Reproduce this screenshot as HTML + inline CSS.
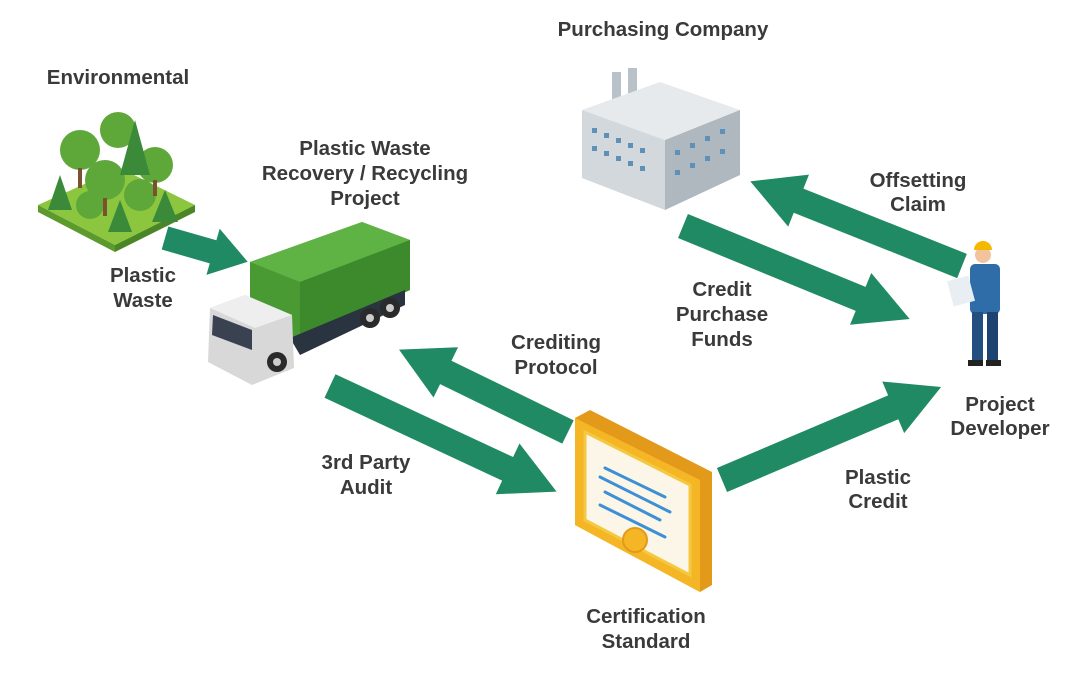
<!DOCTYPE html>
<html><head><style>
html,body{margin:0;padding:0;background:#fff;}
svg{display:block}
text{font-family:"Liberation Sans",sans-serif;font-weight:bold;font-size:20.5px;fill:#3a3a3a;text-anchor:middle}
</style></head><body>
<svg width="1080" height="695" viewBox="0 0 1080 695">
<g fill="#1f8a63">
<polygon transform="translate(165,238) rotate(16)" points="0,-12 50,-12 50,-24 86,0 50,24 50,12 0,12"/>
<polygon transform="translate(962,266) rotate(201.8)" points="0,-13 176,-13 176,-28 228,0 176,28 176,13 0,13"/>
<polygon transform="translate(683,226) rotate(22.3)" points="0,-13 192,-13 192,-28 245,0 192,28 192,13 0,13"/>
<polygon transform="translate(568,432) rotate(206)" points="0,-13 136,-13 136,-28 188,0 136,28 136,13 0,13"/>
<polygon transform="translate(330,386) rotate(25)" points="0,-13 196,-13 196,-28 250,0 196,28 196,13 0,13"/>
<polygon transform="translate(722,480) rotate(-23)" points="0,-13 186,-13 186,-28 238,0 186,28 186,13 0,13"/>
</g>

<polygon points="38,205 120,168 195,205 115,245" fill="#8cc63f"/>
<polygon points="38,205 115,245 115,252 38,212" fill="#5c9a2e"/>
<polygon points="115,245 195,205 195,212 115,252" fill="#4a8526"/>
<g fill="#5ea83a">
<circle cx="80" cy="150" r="20"/><circle cx="118" cy="130" r="18"/><circle cx="155" cy="165" r="18"/>
<circle cx="105" cy="180" r="20"/><circle cx="140" cy="195" r="16"/><circle cx="90" cy="205" r="14"/>
</g>
<g fill="#3a8a3a">
<polygon points="60,175 72,210 48,210"/><polygon points="135,120 150,175 120,175"/><polygon points="120,200 132,232 108,232"/><polygon points="165,190 178,222 152,222"/>
</g>
<g fill="#7a5230"><rect x="78" y="168" width="4" height="20"/><rect x="103" y="198" width="4" height="18"/><rect x="153" y="180" width="4" height="16"/></g>

<polygon points="250,262 362,222 410,240 410,290 300,340 250,318" fill="#4a9a34"/>
<polygon points="250,262 362,222 410,240 300,282" fill="#5fb344"/>
<polygon points="300,282 410,240 410,290 300,340" fill="#3d8a2c"/>
<polygon points="290,338 405,290 405,305 300,355" fill="#2a3340"/>
<polygon points="210,308 245,295 292,315 294,368 252,385 208,362" fill="#d8d8d8"/>
<polygon points="210,308 245,295 292,315 255,328" fill="#eeeeee"/>
<polygon points="213,315 252,330 252,350 212,335" fill="#3a4150"/>
<circle cx="277" cy="362" r="10" fill="#2a2a2a"/><circle cx="370" cy="318" r="10" fill="#2a2a2a"/><circle cx="390" cy="308" r="10" fill="#2a2a2a"/>
<circle cx="277" cy="362" r="4" fill="#ccc"/><circle cx="370" cy="318" r="4" fill="#ccc"/><circle cx="390" cy="308" r="4" fill="#ccc"/>

<rect x="612" y="72" width="9" height="40" fill="#b9c2c8"/><rect x="628" y="68" width="9" height="44" fill="#b9c2c8"/>
<polygon points="582,110 660,82 740,110 665,140" fill="#e6eaec"/>
<polygon points="582,110 665,140 665,210 582,178" fill="#d2d8dc"/>
<polygon points="665,140 740,110 740,175 665,210" fill="#aeb8be"/>
<g fill="#5e90b8">
<rect x="592" y="128" width="5" height="5"/><rect x="604" y="133" width="5" height="5"/><rect x="616" y="138" width="5" height="5"/><rect x="628" y="143" width="5" height="5"/><rect x="640" y="148" width="5" height="5"/>
<rect x="592" y="146" width="5" height="5"/><rect x="604" y="151" width="5" height="5"/><rect x="616" y="156" width="5" height="5"/><rect x="628" y="161" width="5" height="5"/><rect x="640" y="166" width="5" height="5"/>
<rect x="675" y="150" width="5" height="5"/><rect x="690" y="143" width="5" height="5"/><rect x="705" y="136" width="5" height="5"/><rect x="720" y="129" width="5" height="5"/>
<rect x="675" y="170" width="5" height="5"/><rect x="690" y="163" width="5" height="5"/><rect x="705" y="156" width="5" height="5"/><rect x="720" y="149" width="5" height="5"/>
</g>

<polygon points="575,418 590,410 712,472 712,585 700,592 575,525" fill="#e39a1a"/>
<polygon points="575,418 700,480 700,592 575,525" fill="#f5b625"/>
<polygon points="585,432 690,485 690,575 585,520" fill="#fbf6e8" stroke="#f5c842" stroke-width="3"/>
<g stroke="#3d8fd6" stroke-width="3" stroke-linecap="round" fill="none">
<line x1="605" y1="468" x2="665" y2="497"/><line x1="600" y1="477" x2="670" y2="512"/>
<line x1="605" y1="492" x2="660" y2="520"/><line x1="600" y1="505" x2="665" y2="537"/>
</g>
<circle cx="635" cy="540" r="12" fill="#f5b625" stroke="#e39a1a" stroke-width="2"/>

<circle cx="983" cy="255" r="8" fill="#f2c39c"/>
<path d="M974 250 a9 9 0 0 1 18 0 z" fill="#f5b800"/>
<rect x="970" y="264" width="30" height="50" rx="5" fill="#2f6da8"/>
<rect x="950" y="278" width="22" height="26" fill="#e8eef2" transform="rotate(-15 961 291)"/>
<rect x="972" y="312" width="11" height="50" fill="#234f80"/><rect x="987" y="312" width="11" height="50" fill="#1d4470"/>
<rect x="968" y="360" width="15" height="6" fill="#222"/><rect x="986" y="360" width="15" height="6" fill="#222"/>

<text x="118" y="84">Environmental</text>
<text x="663" y="36">Purchasing Company</text>
<text x="365" y="155">Plastic Waste</text>
<text x="365" y="180">Recovery / Recycling</text>
<text x="365" y="205">Project</text>
<text x="143" y="282">Plastic</text>
<text x="143" y="307">Waste</text>
<text x="918" y="187">Offsetting</text>
<text x="918" y="211">Claim</text>
<text x="722" y="296">Credit</text>
<text x="722" y="321">Purchase</text>
<text x="722" y="346">Funds</text>
<text x="556" y="349">Crediting</text>
<text x="556" y="374">Protocol</text>
<text x="1000" y="411">Project</text>
<text x="1000" y="435">Developer</text>
<text x="366" y="469">3rd Party</text>
<text x="366" y="494">Audit</text>
<text x="878" y="484">Plastic</text>
<text x="878" y="508">Credit</text>
<text x="646" y="623">Certification</text>
<text x="646" y="648">Standard</text>
</svg>
</body></html>
